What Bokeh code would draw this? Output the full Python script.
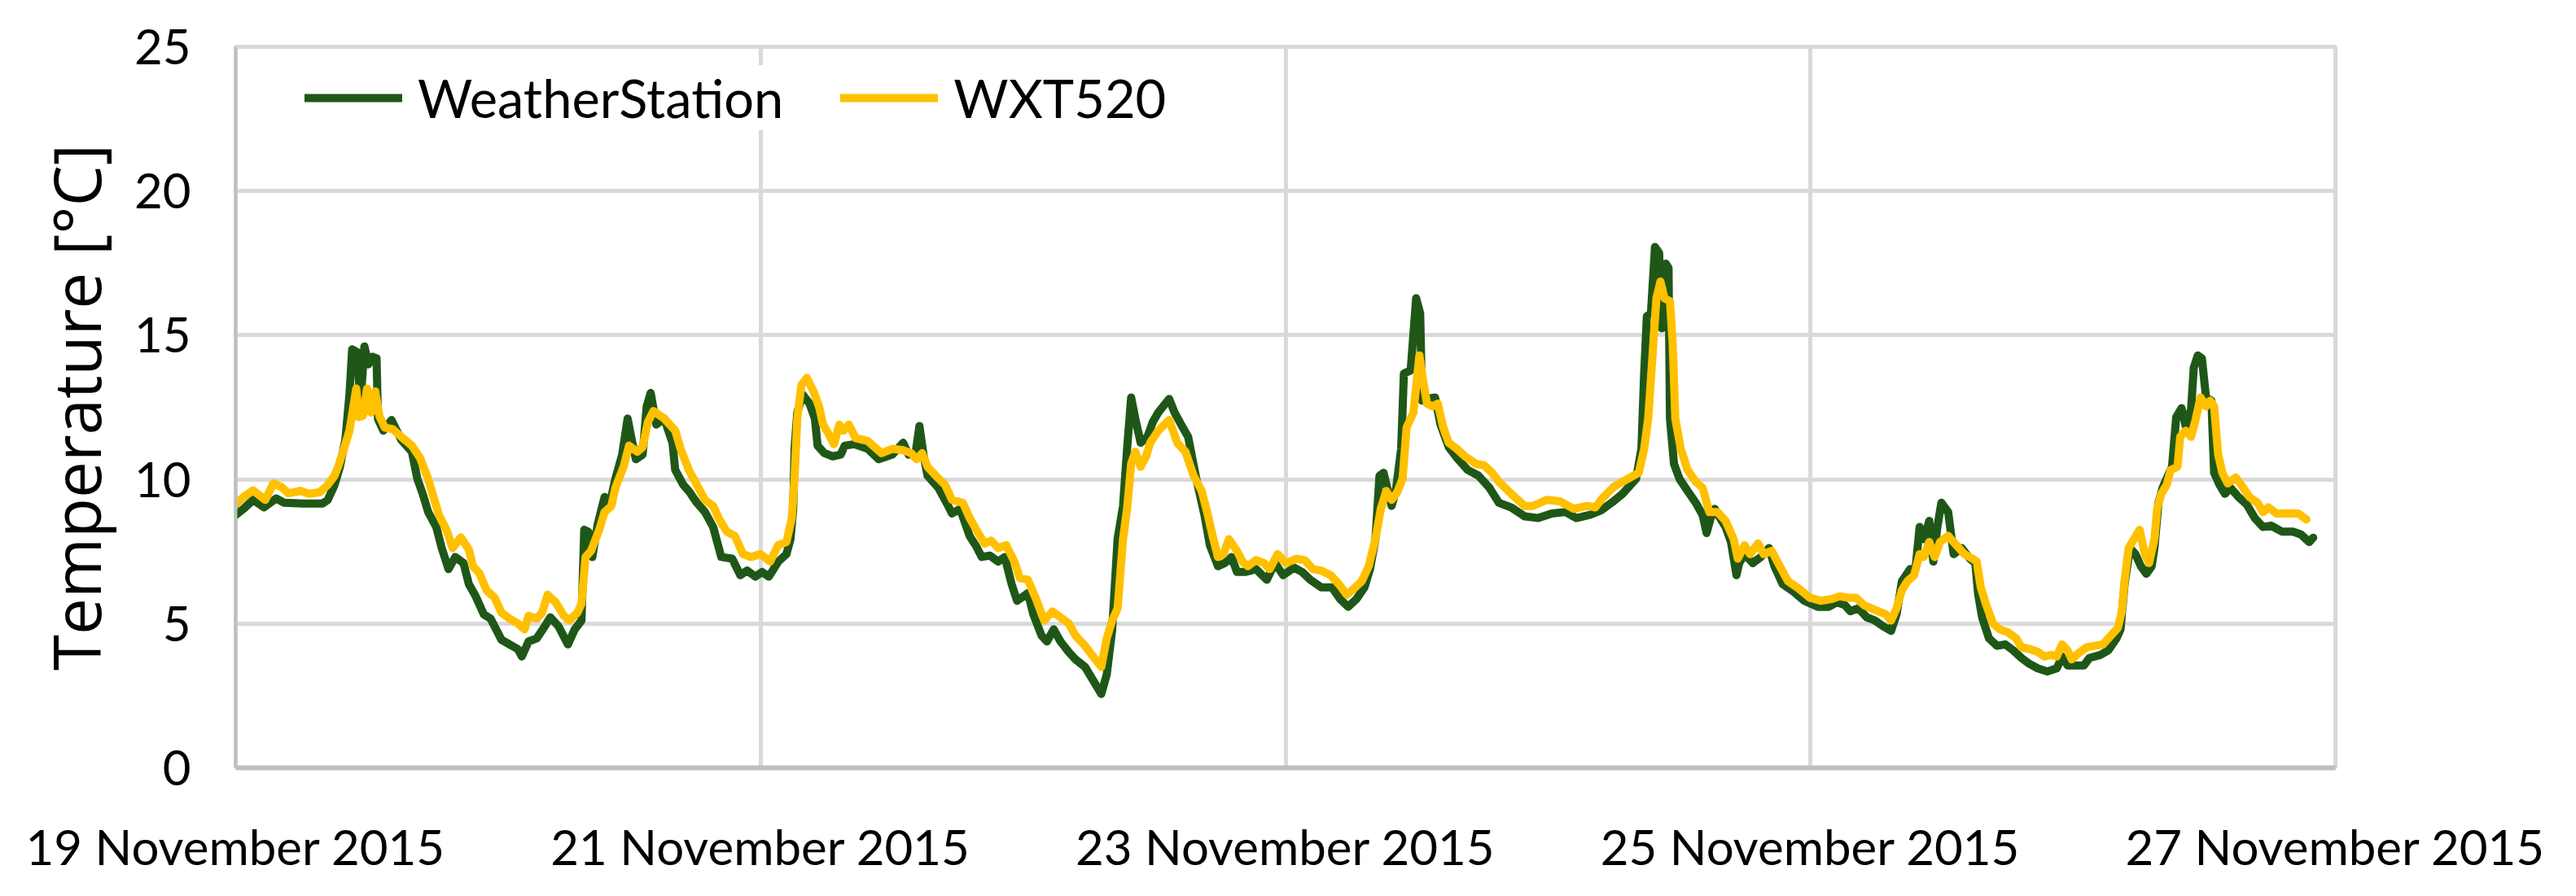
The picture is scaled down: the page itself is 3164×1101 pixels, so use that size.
import pandas as pd
from bokeh.plotting import figure
from bokeh.models import FixedTicker, DatetimeTickFormatter, Range1d, Legend, LegendItem
from bokeh.embed import file_html
from bokeh.resources import INLINE

# ---------------- data (hours after 19 Nov 2015 00:00, temperature in degC) ----------------
series_names = ["WeatherStation", "WXT520"]

ws_hours = [0.0, 0.72, 1.59, 2.58, 3.70, 4.44, 6.18, 7.92, 8.42, 9.04, 9.53, 10.03, 10.40, 10.65,
            11.15, 11.39, 11.77, 12.14, 12.51, 12.88, 13.01, 13.50, 14.25, 15.12, 16.11, 16.61,
            17.10, 17.60, 18.34, 18.84, 19.46, 20.08, 20.83, 21.32, 21.94, 22.69, 23.31, 24.30,
            25.04, 25.79, 26.16, 26.78, 27.53, 28.27, 28.77, 29.51, 30.38, 31.00, 31.62, 31.87,
            32.24, 32.61, 33.11, 33.73, 34.23, 34.72, 35.34, 35.84, 36.21, 36.59, 37.21, 37.58,
            37.95, 38.45, 39.19, 39.94, 40.19, 40.93, 41.43, 42.17, 42.91, 43.66, 44.40, 45.40,
            46.14, 46.76, 47.51, 48.13, 48.75, 49.61, 50.36, 50.73, 50.98, 51.10, 51.35, 51.85,
            52.47, 52.96, 53.21, 53.83, 54.58, 55.32, 55.69, 56.56, 57.80, 58.80, 60.04, 61.03,
            61.53, 62.15, 62.52, 62.89, 63.26, 64.25, 65.00, 65.50, 66.24, 67.11, 67.73, 68.22,
            68.97, 69.71, 70.33, 70.95, 71.45, 72.44, 72.94, 73.68, 74.18, 74.80, 75.42, 76.17,
            76.79, 77.66, 78.41, 79.15, 79.65, 80.15, 80.64, 81.14, 81.51, 81.88, 82.26, 82.75,
            83.37, 83.87, 84.36, 85.36, 85.85, 86.60, 87.09, 87.84, 88.58, 89.08, 89.82, 90.44,
            91.06, 91.56, 92.30, 93.30, 94.29, 95.03, 95.78, 96.77, 97.52, 98.26, 99.25, 100.24,
            100.99, 101.73, 102.48, 103.22, 103.72, 104.22, 104.59, 104.96, 105.70, 106.08,
            106.57, 106.82, 107.44, 107.94, 108.31, 108.48, 108.93, 109.67, 110.17, 110.92,
            111.66, 112.65, 113.64, 114.64, 115.51, 116.63, 117.87, 119.11, 120.35, 121.60,
            122.59, 123.83, 124.82, 125.81, 126.81, 128.05, 128.54, 128.79, 129.04, 129.41,
            129.78, 130.16, 130.40, 130.78, 131.02, 131.15, 131.52, 132.02, 132.76, 133.51,
            134.13, 134.50, 134.87, 135.24, 135.74, 136.24, 136.73, 137.23, 137.48, 137.97,
            138.72, 139.46, 140.21, 140.70, 141.45, 142.44, 143.43, 144.67, 145.66, 146.41,
            147.15, 147.65, 148.39, 149.14, 149.88, 150.63, 151.37, 151.87, 152.36, 153.11,
            153.60, 153.98, 154.36, 154.86, 155.23, 155.60, 155.97, 156.59, 157.09, 157.83,
            158.58, 159.07, 159.32, 159.69, 160.32, 161.06, 161.80, 162.55, 163.29, 164.04,
            164.78, 165.65, 166.52, 167.01, 167.51, 168.26, 169.00, 169.50, 170.49, 171.23,
            171.98, 172.35, 172.72, 173.22, 173.71, 174.21, 174.71, 175.20, 175.45, 175.82,
            176.20, 176.69, 177.06, 177.44, 177.93, 178.31, 178.80, 179.05, 179.42, 179.79,
            180.17, 180.66, 180.91, 181.41, 181.90, 182.40, 183.14, 183.89, 184.63, 185.38,
            186.12, 187.11, 188.11, 188.85, 189.60, 189.97]
ws_temp = [8.77, 8.98, 9.29, 9.03, 9.34, 9.19, 9.16, 9.16, 9.29, 9.81, 10.44, 11.38, 12.94, 14.51,
           14.40, 12.53, 14.61, 13.99, 14.25, 14.20, 12.10, 11.69, 12.06, 11.38, 10.96, 10.02,
           9.50, 8.87, 8.35, 7.62, 6.89, 7.31, 7.10, 6.37, 5.95, 5.32, 5.17, 4.44,
           4.28, 4.12, 3.86, 4.38, 4.49, 4.91, 5.22, 4.91, 4.28, 4.80, 5.11, 8.25,
           8.19, 7.31, 8.46, 9.39, 9.18, 10.02, 10.86, 12.11, 11.38, 10.70, 10.86, 12.53,
           13.00, 11.90, 12.11, 11.27, 10.33, 9.81, 9.60, 9.19, 8.87, 8.35, 7.31, 7.25,
           6.68, 6.84, 6.63, 6.79, 6.63, 7.15, 7.41, 7.93, 8.98, 11.06, 12.32, 12.94,
           12.63, 12.11, 11.17, 10.91, 10.80, 10.86, 11.17, 11.22, 11.06, 10.70, 10.86, 11.27,
           10.86, 10.86, 11.85, 10.86, 10.13, 9.71, 9.19, 8.82, 8.98, 8.04, 7.67, 7.31,
           7.36, 7.15, 7.31, 6.37, 5.79, 6.06, 5.32, 4.59, 4.38, 4.80, 4.38, 4.02,
           3.76, 3.50, 3.03, 2.56, 3.24, 4.80, 7.93, 9.08, 11.06, 12.84, 12.11, 11.27,
           11.48, 12.00, 12.32, 12.79, 12.32, 11.80, 11.48, 10.02, 8.77, 7.72, 6.99, 7.10,
           7.31, 6.79, 6.79, 6.89, 6.52, 7.10, 6.68, 6.94, 6.79, 6.52, 6.26, 6.26,
           5.85, 5.58, 5.85, 6.26, 6.89, 7.93, 10.13, 10.23, 9.08, 9.60,
           11.06, 13.67, 13.78, 16.28, 15.76, 12.73, 12.79, 12.84, 11.90, 11.12,
           10.75, 10.33, 10.13, 9.71, 9.19, 9.03, 8.72, 8.66, 8.82, 8.87,
           8.66, 8.77, 8.92, 9.19, 9.50, 10.02, 11.06, 13.67, 15.66, 15.76,
           18.06, 17.85, 15.24, 17.48, 17.33, 12.11, 10.54, 10.02, 9.60, 9.19,
           8.77, 8.14, 8.66, 8.98, 8.66, 8.35, 7.83, 6.68, 7.10, 7.41,
           7.10, 7.31, 7.62, 6.99, 6.37, 6.11, 5.79, 5.58, 5.58, 5.74,
           5.64, 5.43, 5.53, 5.22, 5.11, 4.91, 4.75, 5.32, 6.47, 6.89,
           6.89, 8.35, 7.93, 8.56, 7.15, 8.35, 9.19, 8.87, 7.41, 7.62,
           7.25, 7.10, 6.05, 5.22, 4.49, 4.23, 4.28, 4.07, 3.81, 3.60,
           3.45, 3.34, 3.45, 3.86, 3.55, 3.55, 3.55, 3.81, 3.91, 4.07,
           4.49, 4.80, 6.37, 7.62, 7.41, 6.99, 6.73, 6.99, 7.62, 9.19,
           9.71, 10.13, 10.44, 12.16, 12.47, 11.85, 12.42, 13.88, 14.30, 14.20,
           12.84, 12.73, 10.23, 9.81, 9.50, 9.71, 9.39, 9.13, 8.66, 8.35,
           8.40, 8.19, 8.19, 8.09, 7.83, 7.98]

wxt_hours = [0.0, 0.72, 1.59, 2.71, 3.45, 4.20, 4.82, 5.93, 6.68, 7.67, 8.42, 9.04, 9.41, 9.90,
             10.40, 10.77, 11.02, 11.27, 11.64, 12.01, 12.39, 12.76, 13.13, 13.63, 14.37, 15.12,
             16.11, 16.85, 17.60, 18.09, 18.59, 19.34, 19.83, 20.58, 21.32, 21.69, 22.31, 22.93,
             23.68, 24.30, 25.04, 25.79, 26.41, 26.78, 27.53, 28.02, 28.52, 29.26, 30.01, 30.51,
             31.25, 31.62, 31.99, 32.49, 33.24, 33.73, 34.35, 34.72, 35.47, 35.97, 36.71, 37.21,
             37.70, 38.20, 39.19, 40.19, 40.68, 41.43, 42.17, 42.91, 43.66, 44.16, 44.90, 45.64,
             46.39, 47.13, 48.00, 48.87, 49.61, 50.36, 50.85, 51.10, 51.35, 51.72, 52.22, 52.84,
             53.34, 53.71, 54.20, 54.70, 55.20, 55.57, 56.07, 56.69, 57.80, 59.04, 60.04, 61.03,
             61.77, 62.27, 62.77, 63.26, 64.01, 64.87, 65.50, 66.49, 67.11, 67.73, 68.47, 69.09,
             69.71, 70.46, 71.20, 71.70, 72.44, 73.19, 73.93, 74.68, 75.42, 76.17, 76.79, 77.66,
             78.41, 79.15, 79.65, 80.15, 80.64, 81.14, 81.51, 81.88, 82.26, 82.75, 83.25, 83.62,
             84.36, 85.36, 86.10, 86.85, 87.59, 88.33, 88.83, 89.33, 89.82, 90.32, 90.82, 91.56,
             92.06, 92.55, 93.30, 94.04, 94.54, 95.28, 96.03, 97.02, 97.76, 98.51, 99.25, 100.12,
             100.87, 101.61, 102.23, 102.97, 103.60, 104.22, 104.71, 105.21, 105.70, 106.20,
             106.70, 107.07, 107.69, 108.24, 108.56, 108.93, 109.43, 109.92, 110.42, 110.92,
             111.66, 112.40, 113.40, 114.14, 114.89, 115.51, 116.63, 117.87, 118.62, 119.86,
             121.10, 122.34, 123.58, 124.32, 125.07, 126.06, 127.30, 128.30, 128.79, 129.16,
             129.54, 129.91, 130.28, 130.65, 131.15, 131.40, 131.64, 132.14, 132.76, 133.51,
             134.13, 134.75, 135.49, 136.24, 136.98, 137.35, 137.97, 138.47, 139.21, 139.71,
             140.45, 141.20, 141.94, 142.94, 143.93, 144.92, 145.91, 146.66, 147.40, 148.15,
             148.89, 149.88, 150.88, 151.37, 151.87, 152.36, 152.86, 153.48, 153.98, 154.36,
             154.86, 155.35, 155.85, 156.59, 157.34, 158.08, 158.83, 159.20, 159.57, 160.07,
             160.69, 161.31, 162.05, 162.80, 163.29, 164.04, 164.78, 165.40, 166.02, 166.52,
             167.01, 167.51, 167.88, 168.50, 169.25, 169.99, 170.74, 171.48, 172.10, 172.47,
             172.72, 173.09, 173.59, 174.09, 174.58, 174.96, 175.45, 175.70, 176.07, 176.57,
             176.94, 177.56, 177.81, 178.31, 178.80, 179.17, 179.67, 180.17, 180.54, 180.91,
             181.28, 181.66, 182.15, 182.90, 183.39, 184.14, 184.88, 185.38, 185.87, 186.62,
             187.61, 188.60, 189.35]
wxt_temp = [9.13, 9.39, 9.62, 9.29, 9.86, 9.73, 9.52, 9.60, 9.50, 9.55, 9.81, 10.13, 10.49, 11.06,
            11.69, 12.53, 13.15, 12.16, 12.21, 13.15, 12.32, 13.05, 12.21, 11.80, 11.74, 11.48,
            11.17, 10.75, 10.02, 9.39, 8.77, 8.19, 7.62, 7.99, 7.57, 7.00, 6.73, 6.16,
            5.90, 5.38, 5.17, 5.01, 4.80, 5.27, 5.17, 5.38, 6.00, 5.74, 5.27, 5.11,
            5.38, 5.69, 7.31, 7.52, 8.25, 8.87, 9.08, 9.71, 10.44, 11.17, 10.96, 11.12,
            12.00, 12.37, 12.11, 11.69, 11.06, 10.33, 9.81, 9.29, 9.08, 8.66, 8.19, 8.04,
            7.41, 7.31, 7.41, 7.15, 7.72, 7.83, 8.66, 10.02, 12.11, 13.26, 13.52, 13.05,
            12.53, 11.90, 11.59, 11.22, 11.90, 11.69, 11.90, 11.43, 11.33, 10.91, 11.06, 11.01,
            10.91, 10.70, 10.91, 10.44, 10.13, 9.81, 9.29, 9.19, 8.66, 8.25, 7.78, 7.88,
            7.62, 7.72, 7.15, 6.58, 6.52, 5.85, 5.11, 5.42, 5.22, 5.01, 4.59, 4.23,
            3.86, 3.50, 4.49, 5.11, 5.53, 7.93, 8.98, 10.54, 10.96, 10.44, 10.80, 11.27,
            11.69, 12.06, 11.27, 10.96, 10.13, 9.60, 8.87, 8.04, 7.31, 7.41, 7.93, 7.52,
            7.15, 6.99, 7.20, 7.10, 6.89, 7.41, 7.10, 7.25, 7.20, 6.89, 6.84, 6.68,
            6.37, 6.00, 6.21, 6.47, 6.99, 7.93, 8.98, 9.60, 9.29, 9.55,
            10.02, 11.80, 12.32, 14.30, 13.47, 12.63, 12.53, 12.63, 11.80, 11.27,
            11.06, 10.80, 10.54, 10.49, 10.23, 9.92, 9.50, 9.08, 9.08, 9.29,
            9.24, 8.98, 9.08, 9.03, 9.39, 9.76, 10.02, 10.23, 11.06, 12.11,
            14.20, 16.28, 16.86, 16.28, 16.18, 14.72, 12.11, 11.06, 10.33, 9.92,
            9.71, 8.87, 8.87, 8.56, 7.93, 7.25, 7.72, 7.41, 7.78, 7.41,
            7.52, 6.99, 6.47, 6.21, 5.90, 5.79, 5.85, 5.95, 5.90, 5.90,
            5.64, 5.48, 5.32, 5.11, 5.53, 6.16, 6.47, 6.68, 7.41, 7.31,
            7.83, 7.31, 7.83, 8.04, 7.72, 7.41, 7.25, 7.15, 6.26, 5.64,
            5.01, 4.80, 4.70, 4.49, 4.18, 4.12, 4.02, 3.86, 3.91, 3.86,
            4.28, 4.07, 3.76, 3.97, 4.18, 4.23, 4.28, 4.59, 4.85, 5.43,
            6.47, 7.62, 7.93, 8.25, 7.41, 7.10, 7.93, 8.98, 9.50, 9.81,
            10.33, 10.44, 11.48, 11.69, 11.48, 12.00, 12.84, 12.53, 12.73, 12.53,
            10.86, 10.23, 9.86, 10.07, 9.81, 9.39, 9.19, 8.87, 9.03, 8.82,
            8.82, 8.82, 8.61]

x_tick_dates = ["2015-11-19", "2015-11-21", "2015-11-23", "2015-11-25", "2015-11-27"]
y_ticks = [0, 5, 10, 15, 20, 25]
y_label = "Temperature [°C]"

# ---------------- build ----------------
start = pd.Timestamp("2015-11-19")
ws_x = (start + pd.to_timedelta(ws_hours, unit="h")).values
wxt_x = (start + pd.to_timedelta(wxt_hours, unit="h")).values
x_ticks_ms = [pd.Timestamp(d).value // 10**6 for d in x_tick_dates]

p = figure(width=3148, height=1085, x_axis_type="datetime",
           output_backend="svg", toolbar_location=None,
           min_border_left=289, min_border_right=280,
           min_border_top=57, min_border_bottom=142,
           x_range=Range1d(x_ticks_ms[0], x_ticks_ms[-1]),
           y_range=Range1d(y_ticks[0], y_ticks[-1]))

p.background_fill_color = "white"
p.border_fill_color = "white"
p.outline_line_color = "#d9d9d9"
p.outline_line_width = 5

fmt = "%d %B %Y"
p.xaxis.ticker = FixedTicker(ticks=x_ticks_ms)
p.xaxis.formatter = DatetimeTickFormatter(
    microseconds=fmt, milliseconds=fmt, seconds=fmt, minsec=fmt, minutes=fmt,
    hourmin=fmt, hours=fmt, days=fmt, months=fmt, years=fmt)
p.yaxis.ticker = FixedTicker(ticks=y_ticks)

for ax in (p.xaxis[0], p.yaxis[0]):
    ax.axis_line_color = "#bfbfbf"
    ax.major_tick_line_color = None
    ax.minor_tick_line_color = None
    ax.major_tick_out = 0
    ax.major_tick_in = 0
    ax.major_label_text_font = "Lato"
    ax.major_label_text_font_size = "60px"
    ax.major_label_text_color = "black"

p.xaxis.axis_line_width = 6
p.yaxis.axis_line_width = 4
p.xaxis.major_label_standoff = 60
p.yaxis.major_label_standoff = 55

p.yaxis.axis_label = y_label
p.yaxis.axis_label_text_font = "Open Sans"
p.yaxis.axis_label_text_font_size = "80px"
p.yaxis.axis_label_text_font_style = "normal"
p.yaxis.axis_label_text_color = "black"
p.yaxis.axis_label_standoff = 15

for g in (p.xgrid[0], p.ygrid[0]):
    g.grid_line_color = "#d9d9d9"
    g.grid_line_width = 5

r_ws = p.line(ws_x, ws_temp, line_color="#1f5718", line_width=10,
              line_join="round", line_cap="round")
r_wxt = p.line(wxt_x, wxt_temp, line_color="#ffc000", line_width=10,
               line_join="round", line_cap="round")

legend = Legend(items=[LegendItem(label=series_names[0], renderers=[r_ws]),
                       LegendItem(label=series_names[1], renderers=[r_wxt])],
                location=(85, 783), orientation="horizontal",
                padding=10, margin=0, spacing=70,
                glyph_width=120, glyph_height=80, label_height=80,
                label_standoff=19,
                label_text_font="Lato", label_text_font_size="65px",
                label_text_color="black",
                border_line_color=None, background_fill_color="white",
                background_fill_alpha=1.0)
p.add_layout(legend)

open("out.html", "w").write(file_html(p, INLINE))
